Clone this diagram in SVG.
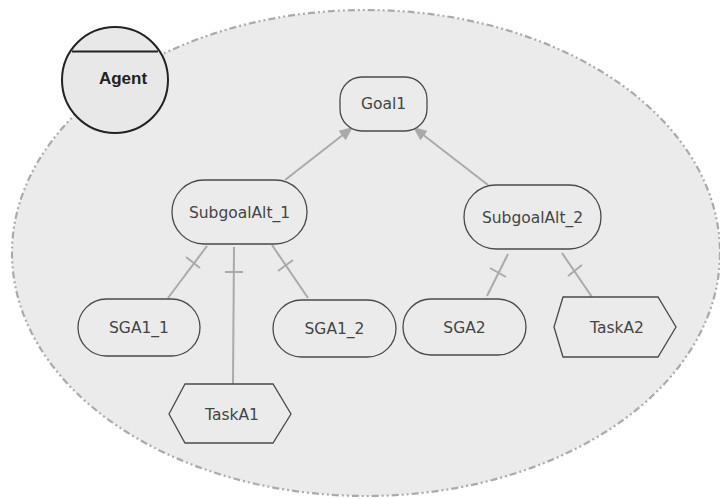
<svg xmlns="http://www.w3.org/2000/svg" width="720" height="499" viewBox="0 0 720 499">
<defs>
<style>
.bnd{fill:#ebebeb;stroke:#aaaaaa;stroke-width:2.2;stroke-dasharray:7 3 2 3 2 3}
.node{fill:#ebebeb;stroke:#4a4a4a;stroke-width:1.3}
.lbl{font-family:"DejaVu Sans",Verdana,sans-serif;font-size:15.5px;fill:#444;text-anchor:middle}
.con{stroke:#aaaaaa;stroke-width:2;fill:none}
.agent{fill:#e8e8e8;stroke:#222;stroke-width:2}
</style>
<marker id="arr" markerWidth="14" markerHeight="12" refX="14" refY="6" orient="auto" markerUnits="userSpaceOnUse">
<path d="M0,0 L14,6 L0,12 Z" fill="#aaaaaa"/>
</marker>
</defs>
<rect width="720" height="499" fill="#ffffff"/>
<g id="boundary">
<ellipse class="bnd" cx="366" cy="253" rx="354" ry="243"/>
</g>
<g id="agent">
<circle class="agent" cx="115" cy="80" r="53"/>
<line x1="72" y1="51.5" x2="158" y2="51.5" stroke="#222" stroke-width="2"/>
<text x="123" y="84" font-family="'Liberation Sans',Arial,sans-serif" font-size="17" font-weight="bold" fill="#222" text-anchor="middle">Agent</text>
</g>
<g id="connectors">
<line class="con" x1="285" y1="180" x2="353" y2="127" marker-end="url(#arr)"/>
<line class="con" x1="488" y1="185" x2="413" y2="127" marker-end="url(#arr)"/>
<line class="con" x1="207" y1="246" x2="168" y2="298"/>
<line class="con" x1="186" y1="257" x2="200" y2="268"/>
<line class="con" x1="234" y1="247" x2="233" y2="384"/>
<line class="con" x1="225" y1="272" x2="243" y2="272"/>
<line class="con" x1="272" y1="245" x2="308" y2="298"/>
<line class="con" x1="278" y1="271" x2="293" y2="260"/>
<line class="con" x1="508" y1="254" x2="487" y2="296"/>
<line class="con" x1="490" y1="268" x2="506" y2="277"/>
<line class="con" x1="562" y1="253" x2="592" y2="297"/>
<line class="con" x1="568" y1="276" x2="582" y2="265"/>
</g>
<g id="goal1">
<rect class="node" x="340" y="77" width="87" height="54" rx="22"/>
<text class="lbl" x="383.5" y="109">Goal1</text>
</g>
<g id="subgoalalt1">
<rect class="node" x="172" y="180" width="135" height="64" rx="32"/>
<text class="lbl" x="239.5" y="217.5">SubgoalAlt_1</text>
</g>
<g id="subgoalalt2">
<rect class="node" x="464" y="185" width="137" height="64" rx="32"/>
<text class="lbl" x="532.5" y="222.5">SubgoalAlt_2</text>
</g>
<g id="sga1_1">
<rect class="node" x="78" y="299" width="122" height="57" rx="28.5"/>
<text class="lbl" x="139" y="332.5">SGA1_1</text>
</g>
<g id="sga1_2">
<rect class="node" x="273" y="300" width="123" height="57" rx="28.5"/>
<text class="lbl" x="334.5" y="333.5">SGA1_2</text>
</g>
<g id="sga2">
<rect class="node" x="403" y="299" width="123" height="56" rx="28"/>
<text class="lbl" x="464.5" y="332.5">SGA2</text>
</g>
<g id="taska1">
<polygon class="node" points="169,414 185,384 273,384 291,414 273,443 185,443"/>
<text class="lbl" x="232" y="419.5">TaskA1</text>
</g>
<g id="taska2">
<polygon class="node" points="554,327 563,297 658,297 676,327 658,357 563,357"/>
<text class="lbl" x="617" y="332.5">TaskA2</text>
</g>
</svg>
